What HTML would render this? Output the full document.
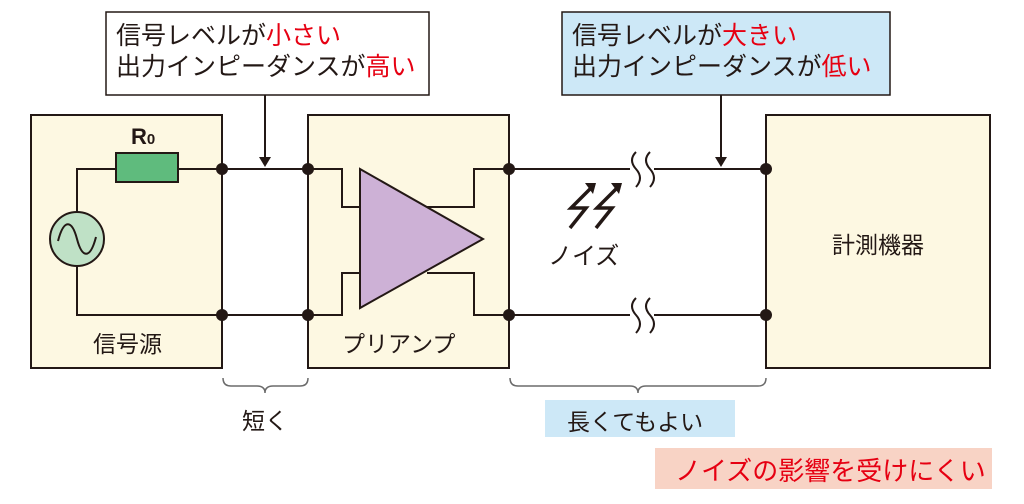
<!DOCTYPE html>
<html><head><meta charset="utf-8"><style>
html,body{margin:0;padding:0;background:#fff;}
body{width:1024px;height:504px;overflow:hidden;position:relative;font-family:"Liberation Sans","Noto Sans CJK JP",sans-serif;}
.t{position:absolute;white-space:nowrap;color:#231815;}
.r{color:#e60012;}
</style></head><body>
<svg width="1024" height="504" style="position:absolute;left:0;top:0" xmlns="http://www.w3.org/2000/svg">
<g stroke="#231815" stroke-width="2" fill="#fdf8e2">
<rect x="31" y="115" width="191" height="253"/>
<rect x="308" y="115" width="201" height="253"/>
<rect x="766" y="115" width="224" height="253"/>
</g>
<rect x="106" y="12" width="323" height="83" fill="#fff" stroke="#231815" stroke-width="1.5"/>
<rect x="562" y="12" width="328" height="83" fill="#cde8f7" stroke="#231815" stroke-width="1.5"/>
<rect x="545" y="400" width="190" height="37" fill="#cde8f7"/>
<rect x="655" y="448" width="337" height="41" fill="#f8d3c5"/>
<g stroke="#231815" stroke-width="2" fill="none">
<path d="M77 212 V169 H116 M178 169 H308 M509 169 H630 M654 169 H766"/>
<path d="M77 266 V315 H308 M509 315 H630 M654 315 H766"/>
<path d="M308 169 H342 V207 H360 M308 315 H342 V273 H360"/>
<path d="M509 169 H474 V207 H427 M509 315 H474 V273 H427"/>
<path d="M265 95 V160 M721 95 V160"/>
<path d="M636 152 q-8 8 0 17 q8 9 0 18 M650 152 q-8 8 0 17 q8 9 0 18"/>
<path d="M636 298 q-8 8 0 17 q8 9 0 18 M650 298 q-8 8 0 17 q8 9 0 18"/>
</g>
<path d="M259 157 L271 157 L265 167Z M715 157 L727 157 L721 167Z" fill="#231815"/>
<polygon points="360,169 483,239 360,308" fill="#cdb1d6" stroke="#231815" stroke-width="2"/>
<rect x="116" y="153" width="62" height="29" fill="#5fbb7d" stroke="#231815" stroke-width="2"/>
<circle cx="77" cy="239" r="27" fill="#bfe1c6" stroke="#231815" stroke-width="2"/>
<path d="M58 241 C64 218 72 220 77 239 C82 258 90 260 96 237" fill="none" stroke="#231815" stroke-width="2"/>
<g fill="#231815">
<circle cx="222" cy="169" r="6"/><circle cx="308" cy="169" r="6"/><circle cx="509" cy="169" r="6"/><circle cx="766" cy="169" r="6"/>
<circle cx="222" cy="315" r="6"/><circle cx="308" cy="315" r="6"/><circle cx="509" cy="315" r="6"/><circle cx="766" cy="315" r="6"/>
</g>
<g stroke="#231815" stroke-width="3.5" fill="none" stroke-linejoin="miter">
<path d="M570 228 L586 208 L571 208 L590 189"/>
<path d="M596 228 L612 208 L597 208 L616 189"/>
</g>
<path d="M585 183 L596 183 L593 194Z M611 183 L622 183 L619 194Z" fill="#231815"/>
<g stroke="#6b6b6b" stroke-width="1.5" fill="none">
<path d="M223 378 q0 8 8 8 H257 q8 0 8 7 q0-7 8-7 H300 q8 0 8-8"/>
<path d="M510 378 q0 8 8 8 H630 q8 0 8 7 q0-7 8-7 H758 q8 0 8-8"/>
</g>
</svg>
<div class="t" style="left:116px;top:21px;font-size:25px;line-height:31px">信号レベルが<span class="r">小さい</span><br>出力インピーダンスが<span class="r">高い</span></div>
<div class="t" style="left:572px;top:21px;font-size:25px;line-height:31px">信号レベルが<span class="r">大きい</span><br>出力インピーダンスが<span class="r">低い</span></div>
<div class="t" style="left:131px;top:124px;font-size:22px;font-weight:bold">R<span style="font-size:15px">0</span></div>
<div class="t" style="left:93px;top:325px;font-size:23px">信号源</div>
<div class="t" style="left:342px;top:325px;font-size:23px">プリアンプ</div>
<div class="t" style="left:548px;top:236px;font-size:24px">ノイズ</div>
<div class="t" style="left:832px;top:226px;font-size:23px">計測機器</div>
<div class="t" style="left:242px;top:402px;font-size:23px">短く</div>
<div class="t" style="left:567px;top:403px;font-size:23px">長くてもよい</div>
<div class="t r" style="left:675px;top:451px;font-size:26px">ノイズの影響を受けにくい</div>
</body></html>
